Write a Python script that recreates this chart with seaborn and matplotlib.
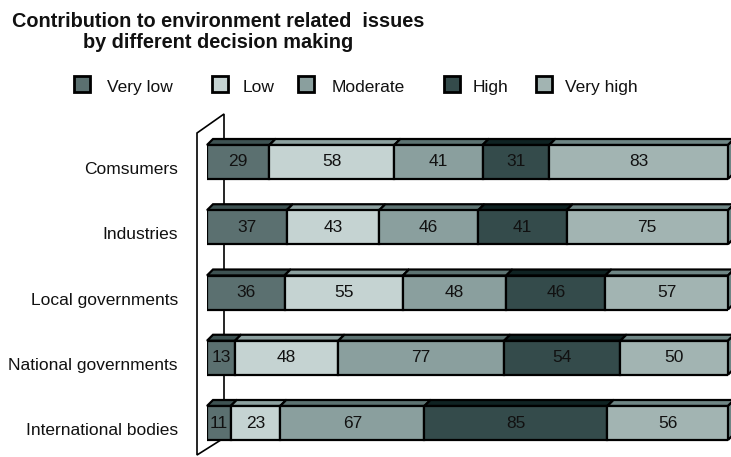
import matplotlib
matplotlib.use("Agg")
import matplotlib.pyplot as plt
import numpy as np
import pandas as pd
import seaborn as sns
from matplotlib.patches import Polygon, Rectangle
from matplotlib.transforms import ScaledTranslation

# ---- data -------------------------------------------------------------
categories = ["Comsumers", "Industries", "Local governments",
              "National governments", "International bodies"]
levels = ["Very low", "Low", "Moderate", "High", "Very high"]
very_low = [29, 37, 36, 13, 11]
low = [58, 43, 55, 48, 23]
moderate = [41, 46, 48, 77, 67]
high = [31, 41, 46, 54, 85]
very_high = [83, 75, 57, 50, 56]
series = [very_low, low, moderate, high, very_high]

# ---- style ------------------------------------------------------------
front_colors = ["#5b7070", "#c5d3d2", "#8a9f9e", "#344b4b", "#a2b4b2"]
top_colors = ["#3e5252", "#8da1a0", "#5d7372", "#0f2222", "#6f8685"]
side_color = "#6f8685"

W, H, DPI = 731, 457, 100
sns.set_theme(style="white")
plt.rcParams["font.family"] = ["Liberation Sans", "DejaVu Sans"]

fig = plt.figure(figsize=(W / DPI, H / DPI), dpi=DPI)
fig.patch.set_facecolor("white")


def fx(x):
    return x / W


def fy(y):
    return 1 - y / H


# plot area geometry (pixels)
row_step = 65.25
first_center = 162
area_left, area_right = 207, 728
area_top = first_center - row_step / 2
area_bottom = first_center + row_step * (len(categories) - 0.5)
bar_frac = 34 / row_step
depth_px = 6

ax = fig.add_axes([fx(area_left), fy(area_bottom),
                   (area_right - area_left) / W, (area_bottom - area_top) / H])
ax.patch.set_visible(False)

# left "wall" of the 3D box
wall = Polygon([(fx(197), fy(133)), (fx(224), fy(114)),
                (fx(224), fy(438)), (fx(197), fy(455))],
               closed=True, facecolor="white", edgecolor="black",
               linewidth=1.2, transform=fig.transFigure, zorder=-1)
fig.add_artist(wall)

# stacked front faces
df = pd.DataFrame({"category": categories})
cum = np.zeros(len(categories))
level_patches = []
for lvl, vals, col in zip(levels, series, front_colors):
    df[lvl] = vals
    n_before = len(ax.patches)
    sns.barplot(data=df, x=lvl, y="category", order=categories, orient="h",
                left=cum.copy(), color=col, saturation=1, errorbar=None,
                width=bar_frac, edgecolor="black", linewidth=1.6, ax=ax,
                zorder=3)
    level_patches.append(ax.patches[n_before:])
    ax.bar_label(ax.containers[-1], labels=[str(v) for v in vals],
                 label_type="center", fontsize=12.5, color="#111111")
    cum += np.array(vals)

total = cum.max()
ax.set_xlim(0, total)
ax.set_ylim(len(categories) - 0.5, -0.5)

# top faces (and right side face of the last segment)
dx = depth_px * total / (area_right - area_left)
dy = depth_px / row_step
for li, patches in enumerate(level_patches):
    for p in patches:
        x0, w = p.get_x(), p.get_width()
        yt, h = p.get_y(), p.get_height()
        top = Polygon([(x0, yt), (x0 + w, yt), (x0 + w + dx, yt - dy),
                       (x0 + dx, yt - dy)], closed=True,
                      facecolor=top_colors[li], edgecolor="black",
                      linewidth=1.6, zorder=2, clip_on=False)
        ax.add_patch(top)
        if li == len(level_patches) - 1:
            x1 = x0 + w
            side = Polygon([(x1, yt), (x1 + dx, yt - dy),
                            (x1 + dx, yt + h - dy), (x1, yt + h)],
                           closed=True, facecolor=side_color,
                           edgecolor="black", linewidth=1.6, zorder=2,
                           clip_on=False)
            ax.add_patch(side)

# axes cosmetics
ax.set_xlabel("")
ax.set_ylabel("")
ax.set_xticks([])
ax.set_yticks(range(len(categories)))
ax.set_yticklabels(categories, fontsize=12.5, color="#111111")
ax.tick_params(axis="y", length=0, pad=(area_left - 178) * 72 / DPI)
shift = ScaledTranslation(0, -6 / DPI, fig.dpi_scale_trans)
for lab in ax.get_yticklabels():
    lab.set_transform(lab.get_transform() + shift)
for s in ax.spines.values():
    s.set_visible(False)

# legend
legend_square_x = [74, 212, 298, 444, 536]
legend_text_x = [107, 243, 332, 473, 565]
sq = 16
for lvl, col, sx, tx in zip(levels, front_colors, legend_square_x, legend_text_x):
    fig.add_artist(Rectangle((fx(sx), fy(76 + sq)), sq / W, sq / H,
                             facecolor=col, edgecolor="black", linewidth=2,
                             transform=fig.transFigure))
    fig.text(fx(tx), fy(92), lvl, fontsize=12.5, color="#111111",
             ha="left", va="baseline")

# title
fig.text(fx(218), fy(27), "Contribution to environment related  issues",
         fontsize=14.3, fontweight="bold", color="#111111", ha="center",
         va="baseline")
fig.text(fx(218), fy(47.5), "by different decision making",
         fontsize=14.3, fontweight="bold", color="#111111", ha="center",
         va="baseline")

fig.savefig("out.png", dpi=DPI, facecolor="white")
